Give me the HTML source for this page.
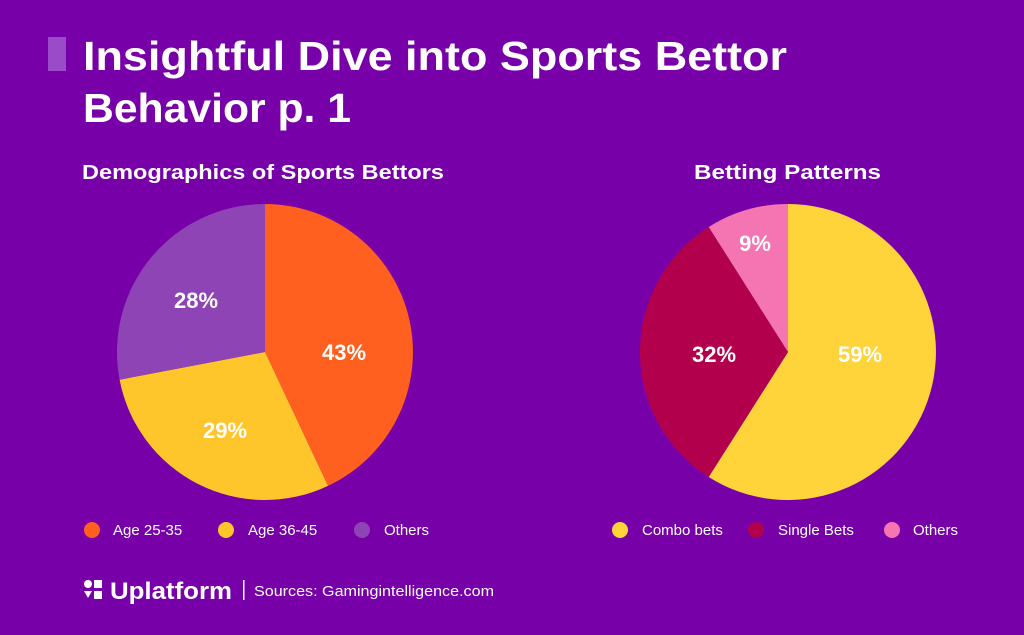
<!DOCTYPE html>
<html><head><meta charset="utf-8"><style>
html,body{margin:0;padding:0;}
body{width:1024px;height:635px;background:#7700A8;overflow:hidden;position:relative;font-family:"Liberation Sans",sans-serif;color:#fff;}
</style></head><body>
<svg width="1024" height="635" viewBox="0 0 1024 635" xmlns="http://www.w3.org/2000/svg" style="position:absolute;left:0;top:0">
<rect width="1024" height="635" fill="#7700A8"/>
<rect x="48" y="37" width="18" height="34" fill="#9A4CC8"/>
<g font-family="Liberation Sans, sans-serif" font-weight="bold" fill="#fff">
<text x="83" y="70" font-size="41" textLength="704" lengthAdjust="spacingAndGlyphs">Insightful Dive into Sports Bettor</text>
<text x="83" y="122" font-size="41" textLength="268" lengthAdjust="spacingAndGlyphs">Behavior p. 1</text>
<text x="82" y="179" font-size="20" textLength="362" lengthAdjust="spacingAndGlyphs">Demographics of Sports Bettors</text>
<text x="694" y="179" font-size="20" textLength="187" lengthAdjust="spacingAndGlyphs">Betting Patterns</text>
</g>
<!-- left pie -->
<path d="M265 352 L265 204 A148 148 0 0 1 328 485.9 Z" fill="#FF5F1F"/>
<path d="M265 352 L328 485.9 A148 148 0 0 1 119.6 379.7 Z" fill="#FFC62B"/>
<path d="M265 352 L119.6 379.7 A148 148 0 0 1 265 204 Z" fill="#8E44B5"/>
<!-- right pie -->
<path d="M788 352 L788 204 A148 148 0 1 1 708.7 477 Z" fill="#FFD43B"/>
<path d="M788 352 L708.7 477 A148 148 0 0 1 708.7 227 Z" fill="#B3004C"/>
<path d="M788 352 L708.7 227 A148 148 0 0 1 788 204 Z" fill="#F574B2"/>
<g font-family="Liberation Sans, sans-serif" font-weight="bold" font-size="22" fill="#fff" text-anchor="middle">
<text x="344" y="360">43%</text>
<text x="225" y="438">29%</text>
<text x="196" y="308">28%</text>
<text x="860" y="362">59%</text>
<text x="714" y="362">32%</text>
<text x="755" y="251">9%</text>
</g>
<g font-family="Liberation Sans, sans-serif" font-size="15" fill="#fff">
<circle cx="92" cy="530" r="8" fill="#FF5F1F"/><text x="113" y="535">Age 25-35</text>
<circle cx="226" cy="530" r="8" fill="#FFC62B"/><text x="248" y="535">Age 36-45</text>
<circle cx="362" cy="530" r="8" fill="#8E44B5"/><text x="384" y="535">Others</text>
<circle cx="620" cy="530" r="8" fill="#FFD43B"/><text x="642" y="535">Combo bets</text>
<circle cx="756" cy="530" r="8" fill="#B3004C"/><text x="778" y="535">Single Bets</text>
<circle cx="892" cy="530" r="8" fill="#F574B2"/><text x="913" y="535">Others</text>
</g>
<!-- footer -->
<g fill="#fff">
<circle cx="88" cy="584" r="4"/>
<rect x="94" y="580" width="8" height="8"/>
<path d="M84 591 L92 591 L88 598 Z"/>
<rect x="94" y="591" width="8" height="8"/>
<text x="110" y="599" font-family="Liberation Sans, sans-serif" font-weight="bold" font-size="24" textLength="122" lengthAdjust="spacingAndGlyphs">Uplatform</text>
<rect x="243" y="580" width="1.5" height="20"/>
<text x="254" y="596" font-family="Liberation Sans, sans-serif" font-size="15" textLength="240" lengthAdjust="spacingAndGlyphs">Sources: Gamingintelligence.com</text>
</g>
</svg>
</body></html>
